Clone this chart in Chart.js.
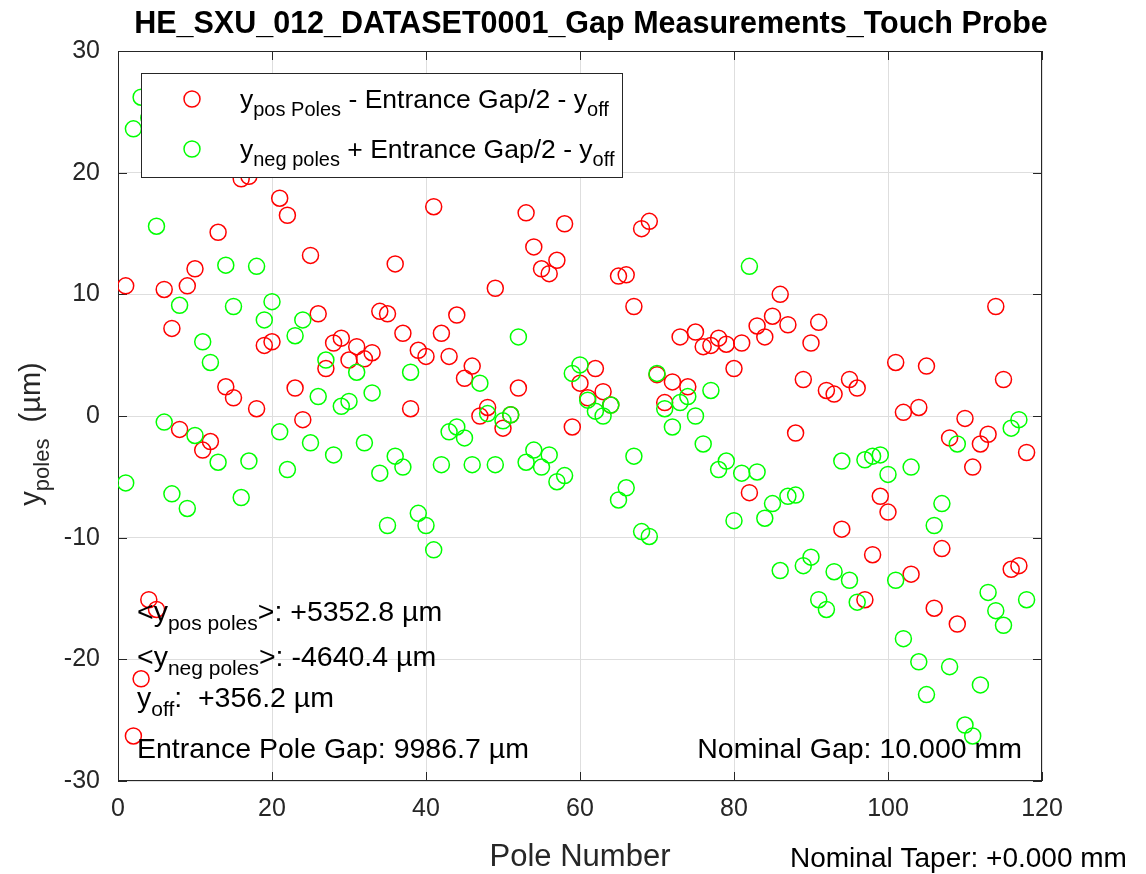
<!DOCTYPE html>
<html>
<head>
<meta charset="utf-8">
<script src="https://cdn.jsdelivr.net/npm/chart.js@4.4.0/dist/chart.umd.min.js"></script>
<style>
  html, body { margin: 0; padding: 0; background: #fff; }
  canvas { display: block; }
</style>
</head>
<body>
<canvas id="gap" width="1146" height="874"></canvas>
<script>
// pole index along the undulator
const POLES = Array.from({ length: 118 }, (_, i) => i + 1);

// y_pos Poles - Entrance Gap/2 - y_off  (µm)
const Y_POS = [
  10.7, -26.3, -21.6, -15.1, -15.9, 10.4, 7.2, -1.1, 10.7, 12.1,
  -2.8, -2.1, 15.1, 2.4, 1.5, 19.5, 19.7, 0.6, 5.8, 6.1,
  17.9, 16.5, 2.3, -0.3, 13.2, 8.4, 3.9, 6.0, 6.4, 4.6,
  5.7, 4.7, 5.2, 8.6, 8.4, 12.5, 6.8, 0.6, 5.4, 4.9,
  17.2, 6.8, 4.9, 8.3, 3.1, 4.1, 0.0, 0.7, 10.5, -1.0,
  0.1, 2.3, 16.7, 13.9, 12.1, 11.7, 12.8, 15.8, -0.9, 2.7,
  1.5, 3.9, 2.0, 0.9, 11.5, 11.6, 9.0, 15.4, 16.0, 3.4,
  1.1, 2.8, 6.5, 2.4, 6.9, 5.7, 5.8, 6.4, 5.9, 3.9,
  6.0, -6.3, 7.4, 6.5, 8.2, 10.0, 7.5, -1.4, 3.0, 6.0,
  7.7, 2.1, 1.8, -9.3, 3.0, 2.3, -15.1, -11.4, -6.6, -7.9,
  4.4, 0.3, -13.0, 0.7, 4.1, -15.8, -10.9, -1.8, -17.1, -0.2,
  -4.2, -2.3, -1.5, 9.0, 3.0, -12.6, -12.3, -3.0
];

// y_neg poles + Entrance Gap/2 - y_off  (µm)
const Y_NEG = [
  -5.5, 23.6, 26.2, 24.5, 15.6, -0.5, -6.4, 9.1, -7.6, -1.6,
  6.1, 4.4, -3.8, 12.4, 9.0, -6.7, -3.7, 12.3, 7.9, 9.4,
  -1.3, -4.4, 6.6, 7.9, -2.2, 1.6, 4.6, -3.2, 0.8, 1.2,
  3.6, -2.2, 1.9, -4.7, -9.0, -3.3, -4.2, 3.6, -8.0, -9.0,
  -11.0, -4.0, -1.3, -0.9, -1.8, -4.0, 2.7, 0.2, -4.0, -0.4,
  0.1, 6.5, -3.8, -2.8, -4.2, -3.2, -5.4, -4.9, 3.5, 4.2,
  1.3, 0.4, 0.0, 0.9, -6.9, -5.9, -3.3, -9.5, -9.9, 3.5,
  0.6, -0.9, 1.1, 1.6, 0.0, -2.3, 2.1, -4.4, -3.7, -8.6,
  -4.7, 12.3, -4.6, -8.4, -7.2, -12.7, -6.6, -6.5, -12.3, -11.6,
  -15.1, -15.9, -12.8, -3.7, -13.5, -15.3, -3.6, -3.3, -3.2, -4.8,
  -13.5, -18.3, -4.2, -20.2, -22.9, -9.0, -7.2, -20.6, -2.3, -25.4,
  -26.3, -22.1, -14.5, -16.0, -17.2, -1.0, -0.3, -15.1
];

const X_TICKS = [0, 20, 40, 60, 80, 100, 120];
const Y_TICKS = [-30, -20, -10, 0, 10, 20, 30];

const FONT = '"Liberation Sans", Arial, Helvetica, sans-serif';
const INK = "#262626";
const RED = "#ff0000";
const GREEN = "#00ff00";

// text with TeX-like subscripts: parts = [[text, isSub], ...]
function rich(ctx, parts, x, y, size, align) {
  const sub = Math.round(size * 0.75);
  const segs = parts.map(([t, isSub]) => {
    ctx.font = `${isSub ? sub : size}px ${FONT}`;
    return { t, isSub, w: ctx.measureText(t).width };
  });
  const total = segs.reduce((a, s) => a + s.w, 0);
  let cx = align === "right" ? x - total : align === "center" ? x - total / 2 : x;
  ctx.textAlign = "left";
  ctx.textBaseline = "alphabetic";
  segs.forEach((s) => {
    ctx.font = `${s.isSub ? sub : size}px ${FONT}`;
    ctx.fillText(s.t, cx, s.isSub ? y + size * 0.32 : y);
    cx += s.w;
  });
}

function ring(ctx, x, y, color) {
  ctx.beginPath();
  ctx.arc(x, y, 8, 0, Math.PI * 2);
  ctx.strokeStyle = color;
  ctx.lineWidth = 1.5;
  ctx.stroke();
}

// axes box with inward ticks, like MATLAB "box on"
const boxPlugin = {
  id: "box",
  beforeDatasetsDraw(chart) {
    const { ctx, chartArea: a, scales } = chart;
    ctx.save();
    ctx.strokeStyle = INK;
    ctx.lineWidth = 1;
    ctx.strokeRect(a.left + 0.5, a.top + 0.5, a.right - a.left - 1, a.bottom - a.top - 1);
    ctx.beginPath();
    X_TICKS.forEach((v) => {
      const px = Math.round(scales.x.getPixelForValue(v)) + 0.5;
      ctx.moveTo(px, a.bottom); ctx.lineTo(px, a.bottom - 9);
      ctx.moveTo(px, a.top); ctx.lineTo(px, a.top + 9);
    });
    Y_TICKS.forEach((v) => {
      const py = Math.round(scales.y.getPixelForValue(v)) + 0.5;
      ctx.moveTo(a.left, py); ctx.lineTo(a.left + 9, py);
      ctx.moveTo(a.right, py); ctx.lineTo(a.right - 9, py);
    });
    ctx.stroke();
    ctx.restore();
  },
};

// title, axis labels, legend box and the measurement notes
const textPlugin = {
  id: "texts",
  afterDatasetsDraw(chart) {
    const { ctx, chartArea: a } = chart;
    ctx.save();
    ctx.fillStyle = "#000";

    ctx.font = `bold 30.5px ${FONT}`;
    ctx.textAlign = "center";
    ctx.textBaseline = "alphabetic";
    ctx.fillText("HE_SXU_012_DATASET0001_Gap Measurements_Touch Probe", 591, 33);

    ctx.fillStyle = INK;
    ctx.font = `31px ${FONT}`;
    ctx.fillText("Pole Number", (a.left + a.right) / 2, 866);

    ctx.save();
    ctx.translate(40, 434);
    ctx.rotate(-Math.PI / 2);
    rich(ctx, [["y", false], ["poles", true], ["  (µm)", false]], 0, 0, 29, "center");
    ctx.restore();

    // legend
    ctx.fillStyle = "#fff";
    ctx.fillRect(141, 73, 481, 104);
    ctx.strokeStyle = INK;
    ctx.lineWidth = 1;
    ctx.strokeRect(141.5, 73.5, 481, 104);
    ring(ctx, 192, 99, RED);
    ring(ctx, 192, 149, GREEN);
    ctx.fillStyle = "#000";
    rich(ctx, [["y", false], ["pos Poles", true], [" - Entrance Gap/2 - y", false], ["off", true]], 240, 108, 26.5);
    rich(ctx, [["y", false], ["neg poles", true], [" + Entrance Gap/2 - y", false], ["off", true]], 240, 158, 26.5);

    // notes inside the axes
    rich(ctx, [["<y", false], ["pos poles", true], [">: +5352.8 µm", false]], 137, 621, 28.5);
    rich(ctx, [["<y", false], ["neg poles", true], [">: -4640.4 µm", false]], 137, 666, 28.5);
    rich(ctx, [["y", false], ["off", true], [":  +356.2 µm", false]], 137, 707, 28.5);
    rich(ctx, [["Entrance Pole Gap: 9986.7 µm", false]], 137, 758, 28.5);
    rich(ctx, [["Nominal Gap: 10.000 mm", false]], 1022, 758, 28.5, "right");
    rich(ctx, [["Nominal Taper: +0.000 mm", false]], 790, 867, 28);
    ctx.restore();
  },
};

const toPoints = (ys) => POLES.map((p, i) => ({ x: p, y: ys[i] }));

new Chart(document.getElementById("gap"), {
  type: "scatter",
  data: {
    datasets: [
      {
        label: "y_neg poles + Entrance Gap/2 - y_off",
        data: toPoints(Y_NEG),
        borderColor: GREEN, backgroundColor: "rgba(0,0,0,0)",
        pointRadius: 8, pointBorderWidth: 1.5, order: 1,
      },
      {
        label: "y_pos Poles - Entrance Gap/2 - y_off",
        data: toPoints(Y_POS),
        borderColor: RED, backgroundColor: "rgba(0,0,0,0)",
        pointRadius: 8, pointBorderWidth: 1.5, order: 2,
      },
    ],
  },
  options: {
    responsive: false,
    animation: false,
    devicePixelRatio: 1,
    layout: { padding: { top: 51, right: 104, left: 0, bottom: 0 } },
    plugins: { legend: { display: false }, tooltip: { enabled: false } },
    scales: {
      x: {
        type: "linear", min: 0, max: 120,
        afterBuildTicks: (s) => { s.ticks = X_TICKS.map((v) => ({ value: v })); },
        afterFit: (s) => { s.height = 93; },
        grid: { color: "#dedede", drawTicks: false },
        border: { display: false },
        ticks: { font: { family: FONT, size: 25 }, color: INK, padding: 13 },
      },
      y: {
        type: "linear", min: -30, max: 30,
        afterBuildTicks: (s) => { s.ticks = Y_TICKS.map((v) => ({ value: v })); },
        afterFit: (s) => { s.width = 118; },
        grid: { color: "#dedede", drawTicks: false },
        border: { display: false },
        ticks: { font: { family: FONT, size: 25 }, color: INK, padding: 18 },
      },
    },
  },
  plugins: [boxPlugin, textPlugin],
});
</script>
</body>
</html>
